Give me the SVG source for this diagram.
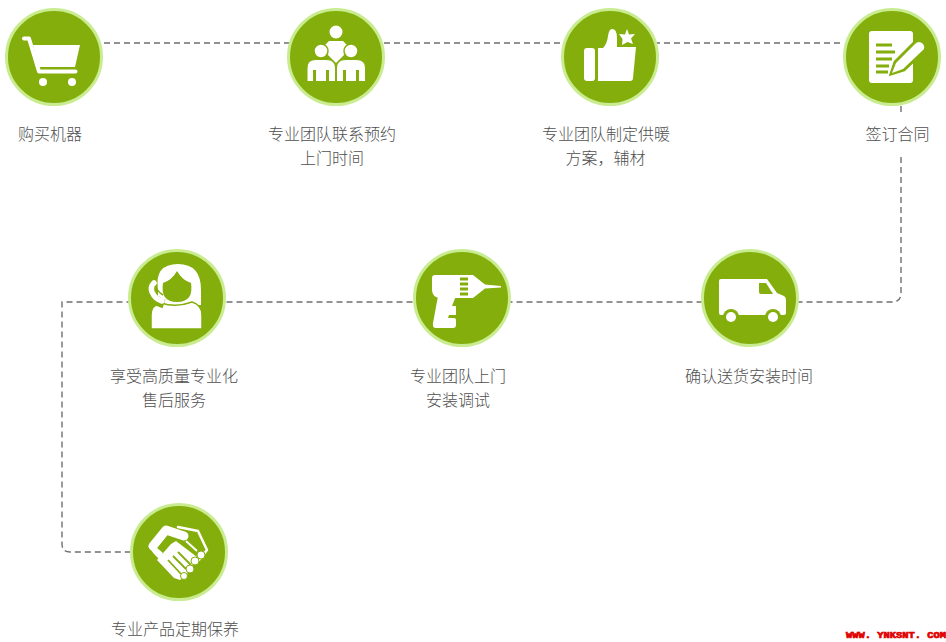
<svg xmlns="http://www.w3.org/2000/svg" width="946" height="642" viewBox="0 0 946 642">
<style>
.disc{fill:#83ae0b;stroke:#c9ec91;stroke-width:3}
.w{fill:#fff}
.g{fill:#83ae0b}
.gl{fill:none;stroke:#83ae0b;stroke-width:3}
.wl{fill:none;stroke:#fff;stroke-linecap:round;stroke-linejoin:round}
.conn{fill:none;stroke:#6f6f6f;stroke-width:1.4;stroke-dasharray:6 4}
text{font-family:"Noto Sans CJK SC","Noto Sans",sans-serif;font-size:16px;fill:#4f4f4f;text-anchor:middle;font-weight:300}
.mark{font-family:"Liberation Mono",monospace;font-size:9px;font-weight:700;fill:#e00000;stroke:#e00000;stroke-width:.7;text-anchor:start}
</style>
<rect width="946" height="642" fill="#fff"/>
<g id="connectors">
<path class="conn" d="M104 43H844"/>
<path class="conn" d="M901 106V115M901 157V293Q901 302 892 302H62V544Q62 552 70 552H130"/>
</g>
<g id="node-cart">
<circle class="disc" cx="54" cy="57" r="47.500"/>
<path class="wl" stroke-width="4" d="M24 38.500H29L39 71.500H75.500"/>
<path class="w" d="M33 45H80L75 67H38.500Z"/>
<circle class="w" cx="43" cy="82" r="4"/><circle class="w" cx="72" cy="82" r="4"/>
<text x="50" y="140">购买机器</text>
</g>
<g id="node-team">
<circle class="disc" cx="336" cy="57" r="47.500"/>
<circle class="w" cx="336" cy="32" r="6.500"/>
<path class="w" d="M329 41H343L347 45V52L338 61L336 63L334 61L325 52V45Z"/>
<circle class="w" cx="321" cy="51" r="7" stroke="#83ae0b" stroke-width="1.500"/><circle class="w" cx="351" cy="51" r="7" stroke="#83ae0b" stroke-width="1.500"/>
<path class="w" stroke="#83ae0b" d="M307 81.500V68Q307 59.500 316 59.500H326Q335.500 59.500 335.500 68V81.500Z"/>
<path class="w" stroke="#83ae0b" d="M336.500 81.500V68Q336.500 59.500 346 59.500H356Q365.500 59.500 365.500 68V81.500Z"/>
<path class="gl" stroke-width="2" d="M314.500 70V81M327.500 70V81M344.500 70V81M357.500 70V81"/>
<text x="332" y="140">专业团队联系预约</text><text x="332" y="164">上门时间</text>
</g>
<g id="node-plan">
<circle class="disc" cx="610" cy="57" r="47.500"/>
<rect class="w" x="584" y="48" width="11" height="33" rx="3"/>
<path class="w" d="M598 48H603Q607 44 608 36Q609 29 612 29Q617 29 617 38V47H636L633 78Q633 81 630 81H598Z"/>
<path class="w" d="M627 29L629 34.500L635 34L631 38.500L633 44L627.500 42L622 45L622.500 39L619 34L625 34.500Z"/>
<text x="606" y="140">专业团队制定供暖</text><text x="605.500" y="164">方案，辅材</text>
</g>
<g id="node-contract">
<circle class="disc" cx="892" cy="57" r="47.500"/>
<rect class="w" x="869" y="31" width="44" height="52" rx="3"/>
<path class="gl" d="M876 45H892M876 52H895M876 59H892M876 66H889M876 72H888"/>
<path d="M891 74L895 62L915 42L925 50L904 70Z" fill="#83ae0b" stroke="#83ae0b" stroke-width="3"/>
<path class="w" d="M892 73L896 63L915 44Q919 40 923 44Q926 48 922 51L903 69Z"/>
<text x="897.500" y="140">签订合同</text>
</g>
<g id="node-delivery">
<circle class="disc" cx="750" cy="298" r="47.500"/>
<path class="w" d="M719 281Q719 279 721 279H767L777 293L784 296Q786 297 786 300V313Q786 315 784 315H721Q719 315 719 313Z"/>
<path class="g" d="M759 283H766L773 294H761Q759 294 759 292Z"/>
<circle class="g" cx="731" cy="317" r="8"/><circle class="g" cx="773" cy="317" r="8"/>
<circle class="w" cx="731" cy="317" r="5"/><circle class="w" cx="773" cy="317" r="5"/>
<text x="749" y="382">确认送货安装时间</text>
</g>
<g id="node-install">
<circle class="disc" cx="462" cy="298" r="47.500"/>
<path class="w" d="M473 275L485 284.500L501 286V287.500L485 288.500L473 298Z"/>
<path class="w" d="M432 278Q432 275 435 275H473V298H440Q432 297 432 290Z"/>
<path class="w" d="M438 296H456L452 306H456V315H449L448 318H454Q456 318 456 320V325Q456 328 453 328H436Q432 328 433 323Z"/>
<path class="g" d="M460 277.500H468V280.500H460ZM460 282.500H468V285.500H460ZM460 287.500H468V290.500H460ZM460 292.500H468V295.500H460Z"/>
<text x="458" y="382">专业团队上门</text><text x="458" y="406">安装调试</text>
</g>
<g id="node-service">
<circle class="disc" cx="177" cy="298" r="47.500"/>
<path class="w" d="M158 290Q154 264 178 264Q201 264 201 290V305H158Z"/>
<path d="M151 329V315Q151 305 161 303Q176 308 192 302Q202 305 202 315V329Z" class="w" stroke="#83ae0b" stroke-width="1.500"/>
<path class="g" d="M163 283Q172 280 177 271Q182 280 191 283Q194 302 177 302Q160 302 163 283Z"/>
<path d="M156 281Q148 284 149 291Q152 300 164 304" fill="none" stroke="#83ae0b" stroke-width="9"/>
<path class="wl" stroke-width="5.500" d="M154 283Q150 287 152 292Q155 299 162 301"/>
<path d="M155 286Q158 292 163 295" fill="none" stroke="#83ae0b" stroke-width="1.500"/>
<text x="174" y="382">享受高质量专业化</text><text x="174" y="406">售后服务</text>
</g>
<g id="node-warranty">
<circle class="disc" cx="179" cy="552" r="47.500"/>
<path class="wl" stroke-width="2.500" d="M178 527L198 531L207 550L199 560"/>
<path class="w" d="M157 560L171 544L176 541L197 557L189 572L180 580L174 578Z"/>
<path class="w" d="M148 546L154 554L159 559L163 553L156 547Z"/>
<path d="M168 560L181 574M173 556L186 569M178 552L191 565" fill="none" stroke="#83ae0b" stroke-width="1.800"/>
<path class="wl" stroke-width="9" d="M153 546L166 530L184 536"/>
<path d="M186 541L197 551" fill="none" stroke="#fff" stroke-width="2"/>
<circle class="w" cx="201" cy="555" r="4" stroke="#83ae0b"/><circle class="w" cx="195" cy="561" r="4" stroke="#83ae0b"/><circle class="w" cx="190" cy="569" r="4" stroke="#83ae0b"/><circle class="w" cx="184" cy="576" r="3.500" stroke="#83ae0b"/>
<text x="175" y="635">专业产品定期保养</text>
</g>
<text class="mark" x="846" y="638" textLength="100" lengthAdjust="spacingAndGlyphs">WWW. YNKSNT. COM</text>
</svg>
